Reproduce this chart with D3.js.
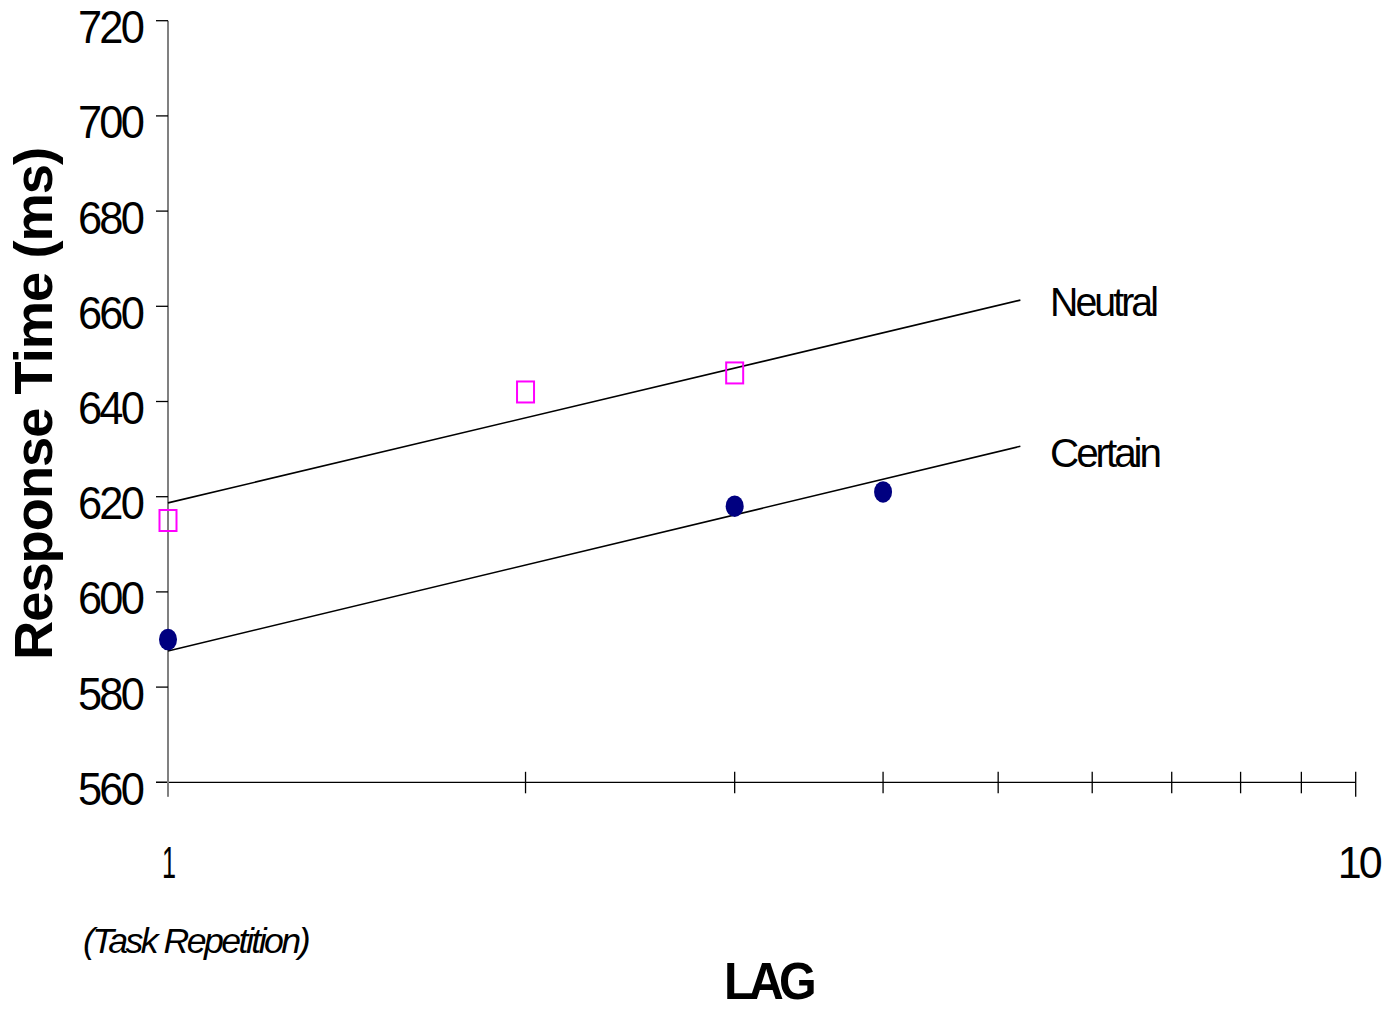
<!DOCTYPE html>
<html>
<head>
<meta charset="utf-8">
<script src="https://cdn.jsdelivr.net/npm/d3@7"></script>
<style>
  html, body { margin: 0; padding: 0; background: #fff; }
  svg { display: block; }
  text { font-family: "Liberation Sans", Arial, sans-serif; fill: #000; }
</style>
</head>
<body>
<div id="chart"></div>
<script>
// ---- data ----
const xTicks = [1, 2, 3, 4, 5, 6, 7, 8, 9, 10];
const xTickLabels = ["1", "10"];
const yTicks = [560, 580, 600, 620, 640, 660, 680, 700, 720];

const neutralLag = [1, 2, 3];
const neutralRT = [615, 642, 646];
const certainLag = [1, 3, 4];
const certainRT = [590, 618, 621];

// fitted logarithmic trend lines (endpoints)
const neutralTrendLag = [1, 5.22];
const neutralTrendRT = [618.7, 661.3];
const certainTrendLag = [1, 5.22];
const certainTrendRT = [587.6, 630.6];

const seriesLabels = ["Neutral", "Certain"];

// ---- layout ----
const W = 1400, H = 1009;
const svg = d3.select("#chart").append("svg").attr("width", W).attr("height", H);

const x = d3.scaleLog().domain([1, 10]).range([168, 1355.7]);
const y = d3.scaleLinear().domain([560, 720]).range([782.3, 20.7]);

// y axis line (gray)
svg.append("line")
  .attr("x1", x(1)).attr("x2", x(1))
  .attr("y1", y(720)).attr("y2", y(560) + 14)
  .attr("stroke", "#808080").attr("stroke-width", 2);

// y ticks
svg.selectAll(".ytick").data(yTicks).enter().append("line")
  .attr("x1", x(1) - 12).attr("x2", x(1))
  .attr("y1", d => y(d)).attr("y2", d => y(d))
  .attr("stroke", "#000").attr("stroke-width", 1.3);

// y tick labels
svg.selectAll(".ylab").data(yTicks).enter().append("text")
  .attr("x", 142).attr("y", d => y(d) + 22.5)
  .attr("text-anchor", "end")
  .attr("font-size", 46)
  .attr("letter-spacing", -3)
  .attr("textLength", 64).attr("lengthAdjust", "spacingAndGlyphs")
  .text(d => d);

// x axis line
svg.append("line")
  .attr("x1", x(1) - 12).attr("x2", x(10))
  .attr("y1", y(560)).attr("y2", y(560))
  .attr("stroke", "#000").attr("stroke-width", 1.3);

// x ticks (cross the axis)
svg.selectAll(".xtick").data(xTicks).enter().append("line")
  .attr("x1", d => x(d)).attr("x2", d => x(d))
  .attr("y1", y(560) - 10.5)
  .attr("y2", d => (d === 1 || d === 10) ? y(560) + 14.5 : y(560) + 11)
  .attr("stroke", d => d === 1 ? "#808080" : "#000")
  .attr("stroke-width", d => d === 1 ? 2 : 1.3);

// x tick labels
svg.selectAll(".xlab").data(xTickLabels).enter().append("text")
  .attr("x", d => +d === 1 ? x(1) + 1 : x(10) + 3)
  .attr("y", 878)
  .attr("text-anchor", "middle")
  .attr("font-size", 44)
  .attr("letter-spacing", d => +d === 1 ? 0 : -3)
  .attr("textLength", d => +d === 1 ? 14 : 42)
  .attr("lengthAdjust", "spacingAndGlyphs")
  .text(d => d);

// trend lines
const line = d3.line().x(d => x(d[0])).y(d => y(d[1]));
svg.append("path")
  .attr("d", line(d3.zip(neutralTrendLag, neutralTrendRT)))
  .attr("fill", "none").attr("stroke", "#000").attr("stroke-width", 1.6);
svg.append("path")
  .attr("d", line(d3.zip(certainTrendLag, certainTrendRT)))
  .attr("fill", "none").attr("stroke", "#000").attr("stroke-width", 1.6);

// neutral markers (open magenta squares)
svg.selectAll(".neu").data(d3.zip(neutralLag, neutralRT)).enter().append("rect")
  .attr("x", d => x(d[0]) - 8.5).attr("y", d => y(d[1]) - 10.5)
  .attr("width", 17).attr("height", 21)
  .attr("fill", "none").attr("stroke", "#FF00FF").attr("stroke-width", 2);

// certain markers (navy filled ellipses)
svg.selectAll(".cer").data(d3.zip(certainLag, certainRT)).enter().append("ellipse")
  .attr("cx", d => x(d[0])).attr("cy", d => y(d[1]))
  .attr("rx", 9).attr("ry", 10.8)
  .attr("fill", "#000080");

// series labels
svg.append("text").attr("x", 1050).attr("y", 316)
  .attr("font-size", 40).attr("letter-spacing", -3)
  .attr("textLength", 106).attr("lengthAdjust", "spacingAndGlyphs")
  .text(seriesLabels[0]);
svg.append("text").attr("x", 1050).attr("y", 467)
  .attr("font-size", 40).attr("letter-spacing", -3)
  .attr("textLength", 109).attr("lengthAdjust", "spacingAndGlyphs")
  .text(seriesLabels[1]);

// y axis title
svg.append("text")
  .attr("transform", "translate(52,404) rotate(-90)")
  .attr("text-anchor", "middle")
  .attr("font-size", 54).attr("font-weight", "bold")
  .attr("letter-spacing", -1)
  .attr("textLength", 512).attr("lengthAdjust", "spacingAndGlyphs")
  .text("Response Time (ms)");

// x axis subtitle and title
svg.append("text").attr("x", 83).attr("y", 953)
  .attr("font-size", 35).attr("font-style", "italic")
  .attr("letter-spacing", -2.5)
  .attr("textLength", 225).attr("lengthAdjust", "spacingAndGlyphs")
  .text("(Task Repetition)");
svg.append("text").attr("x", 724).attr("y", 999)
  .attr("font-size", 51).attr("font-weight", "bold")
  .attr("letter-spacing", -5)
  .attr("textLength", 88).attr("lengthAdjust", "spacingAndGlyphs")
  .text("LAG");
</script>
</body>
</html>
